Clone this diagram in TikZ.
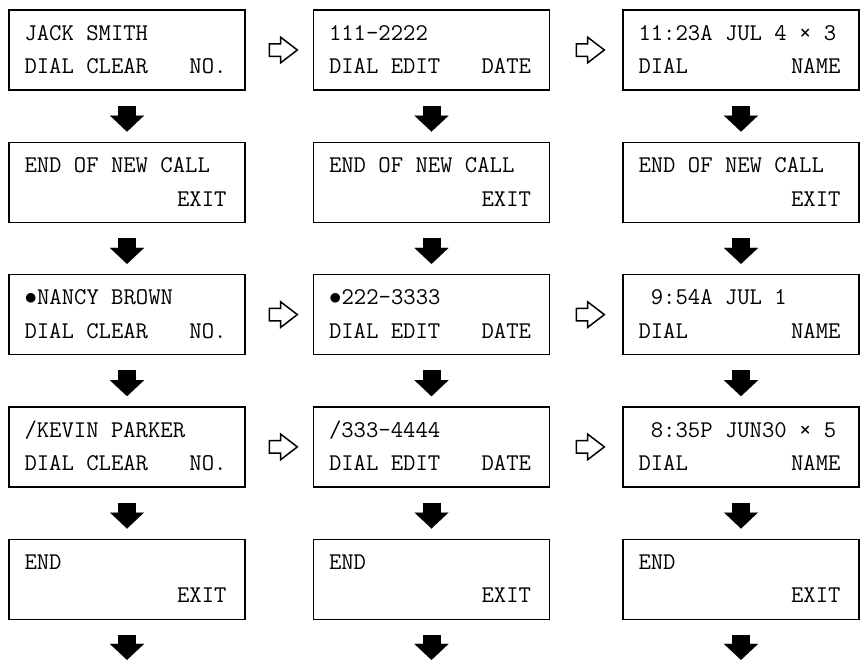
\documentclass[tikz,border=0pt]{standalone}
\usetikzlibrary{arrows.meta,shapes.arrows,calc}

\begin{document}
\begin{tikzpicture}[x=1pt, y=-1pt,
  font=\fontsize{24}{26}\selectfont\ttfamily,
  screen/.style={draw, line width=1.4pt, minimum width=236pt,
                 minimum height=80pt, inner sep=0pt},
  lcd/.style={inner sep=0pt, anchor=base west},
  lcdkey/.style={inner sep=0pt, anchor=base east},
  drop/.style={line width=18pt, shorten <=15pt, shorten >=10pt,
               -{Triangle[width=34pt, length=16pt, line width=0.01pt]}},
  hollow/.style={shape=single arrow, draw, fill=white, line width=1.5pt,
                 inner xsep=0pt, inner ysep=5.5pt, minimum height=28pt,
                 minimum width=24pt, single arrow head extend=6.5pt,
                 single arrow tip angle=75}]

\fill[white] (0,0) rectangle (862,667);
\useasboundingbox (0,0) rectangle (862,667);

% ============================================================ the screens
\foreach \c/\x in {1/127, 2/431.5, 3/741}
  \foreach \r/\y in {1/50, 2/182.3, 3/314.6, 4/446.9, 5/579.2}
    \node[screen] (s\r\c) at (\x,\y) {};

% Caller screens: top line, then the soft keys under it.
\foreach \r/\c/\lineA/\keyL/\keyR in {
    1/1/{JACK SMITH}/{DIAL CLEAR}/{NO.},
    1/2/{111-2222}/{DIAL EDIT}/{DATE},
    1/3/{11:23A JUL 4 × 3}/{DIAL}/{NAME},
    3/1/{\makebox[0.525em]{$\bullet$}NANCY BROWN}/{DIAL CLEAR}/{NO.},
    3/2/{\makebox[0.525em]{$\bullet$}222-3333}/{DIAL EDIT}/{DATE},
    3/3/{\ 9:54A JUL 1}/{DIAL}/{NAME},
    4/1/{/KEVIN PARKER}/{DIAL CLEAR}/{NO.},
    4/2/{/333-4444}/{DIAL EDIT}/{DATE},
    4/3/{\ 8:35P JUN30 × 5}/{DIAL}/{NAME}} {
  \node[lcd, xshift=16pt, yshift=-31pt] (s\r\c-a) at (s\r\c.north west) {\lineA};
  \node[lcd, xshift=16pt, yshift=17pt] (s\r\c-b) at (s\r\c.south west) {\keyL};
  \node[lcdkey, xshift=-19pt, yshift=17pt] (s\r\c-k) at (s\r\c.south east) {\keyR};
}

% End screens only carry the EXIT key.
\foreach \r/\lineA in {2/{END OF NEW CALL}, 5/{END}}
  \foreach \c in {1,2,3} {
    \node[lcd, xshift=16pt, yshift=-31pt] (s\r\c-a) at (s\r\c.north west) {\lineA};
    \node[lcdkey, xshift=-19pt, yshift=17pt] (s\r\c-k) at (s\r\c.south east) {EXIT};
  }

% ========================================================== down arrows
\foreach \c in {1,2,3} {
  \foreach \r/\n in {1/2, 2/3, 3/4, 4/5}
    \draw[drop] (s\r\c) -- (s\n\c);
  \coordinate (e\c) at ($(s5\c.south)+(0,50)$);
  \draw[drop] (s5\c) -- (e\c);
}

% ====================================================== sideways arrows
\foreach \r in {1,3,4}
  \foreach \a/\b in {1/2, 2/3}
    \node[hollow] (h\r\a) at ($(s\r\a.east)!0.5!(s\r\b.west)$) {};

\end{tikzpicture}
\end{document}
